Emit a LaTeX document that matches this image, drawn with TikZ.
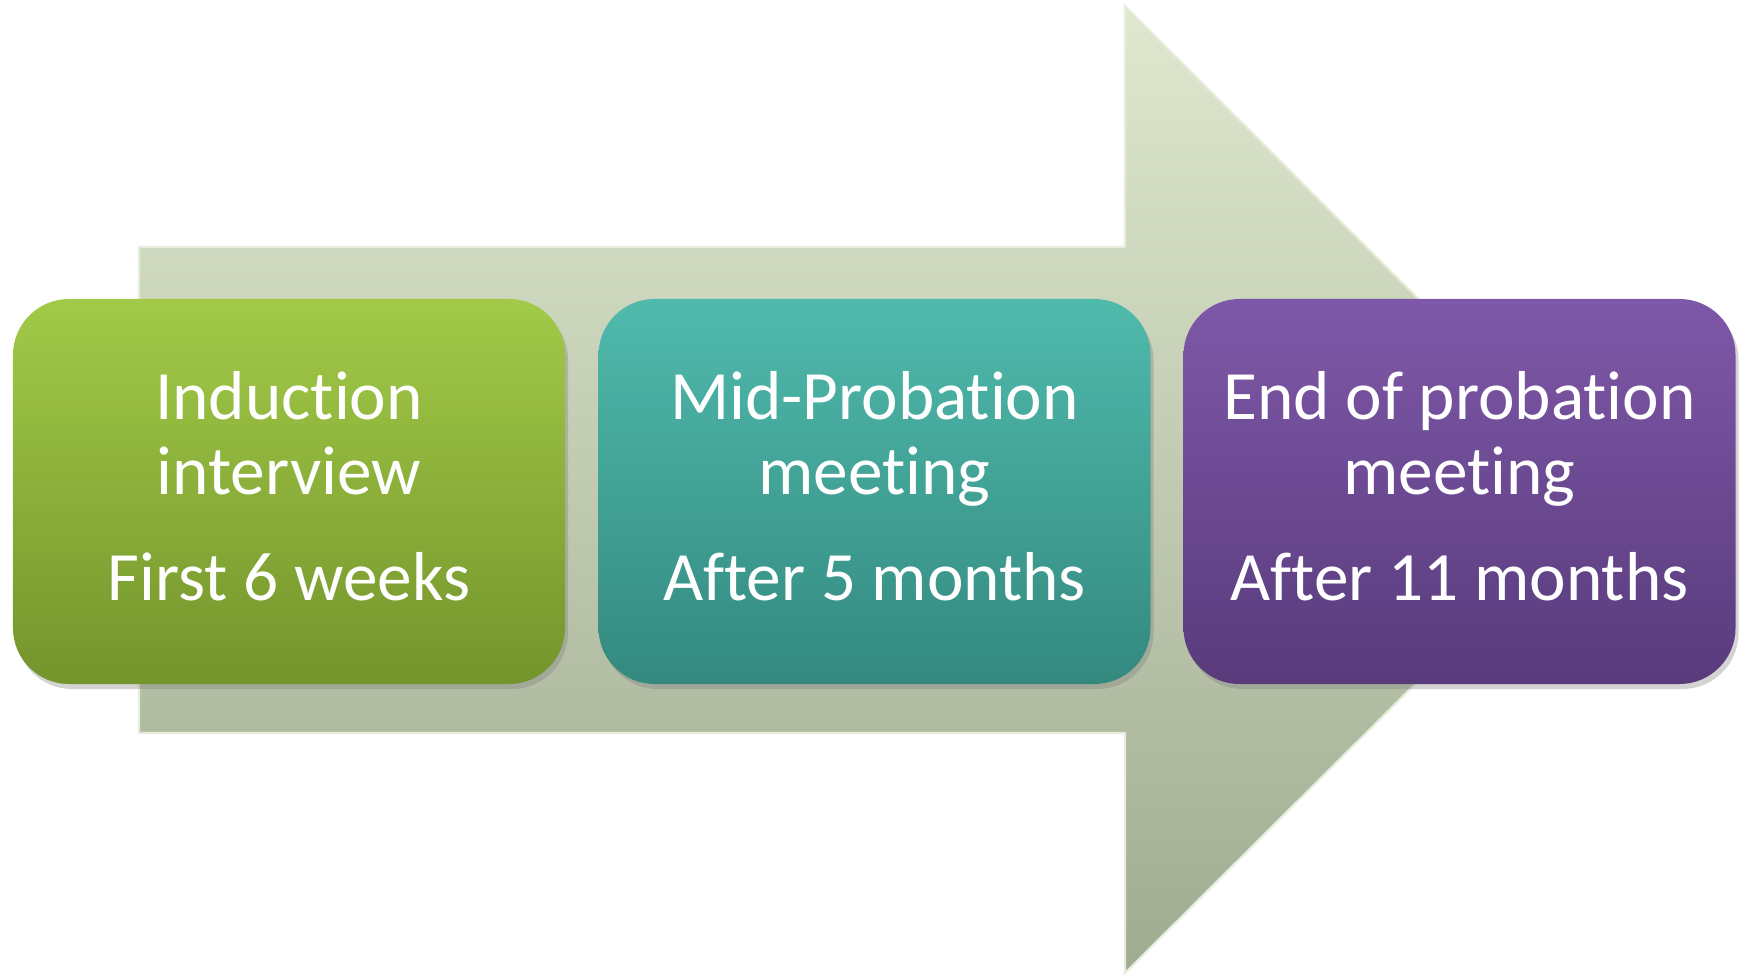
\documentclass[tikz,border=0pt]{standalone}
\usepackage{fontspec}
\setmainfont{Carlito}[Ligatures=NoCommon]
\usetikzlibrary{shadings,shadows}

\definecolor{arrowtop}{HTML}{DFE8CF}
\definecolor{arrowbot}{HTML}{A0AC92}
\definecolor{arrowedge}{HTML}{E6EDDA}
\definecolor{greentop}{HTML}{A2CA48}
\definecolor{greenbot}{HTML}{74942C}
\definecolor{tealtop}{HTML}{4FBAAC}
\definecolor{tealbot}{HTML}{34897F}
\definecolor{purpletop}{HTML}{7E58A8}
\definecolor{purplebot}{HTML}{593B7C}

\tikzset{
  stage/.style={rounded corners=0.56cm, minimum width=5.52cm, minimum height=3.85cm,
    text=white, align=center, font=\fontsize{19.7}{21.3}\selectfont,
    execute at end node={\rule[-0.11cm]{0pt}{0pt}},
    drop shadow={opacity=0.35, shadow xshift=0.03cm, shadow yshift=-0.05cm}},
}

\begin{document}
\begin{tikzpicture}
    \useasboundingbox (0,0) rectangle (17.47,9.75);

    % big arrow behind the stages
    \shade[top color=arrowtop, bottom color=arrowbot, draw=arrowedge, line width=0.6pt]
        (1.39,2.42) -- (11.25,2.42) -- (11.25,0.02) -- (16.10,4.85)
        -- (11.25,9.69) -- (11.25,7.28) -- (1.39,7.28) -- cycle;

    \node[stage, top color=greentop, bottom color=greenbot] (induction) at (2.89,4.835)
        {Induction\\interview\\[9pt]First 6 weeks};
    \node[stage, top color=tealtop, bottom color=tealbot] (midprobation) at (8.745,4.835)
        {Mid-Probation\\meeting\\[9pt]After 5 months};
    \node[stage, top color=purpletop, bottom color=purplebot] (endprobation) at (14.595,4.835)
        {End of probation\\meeting\\[9pt]After 11 months};
\end{tikzpicture}
\end{document}
